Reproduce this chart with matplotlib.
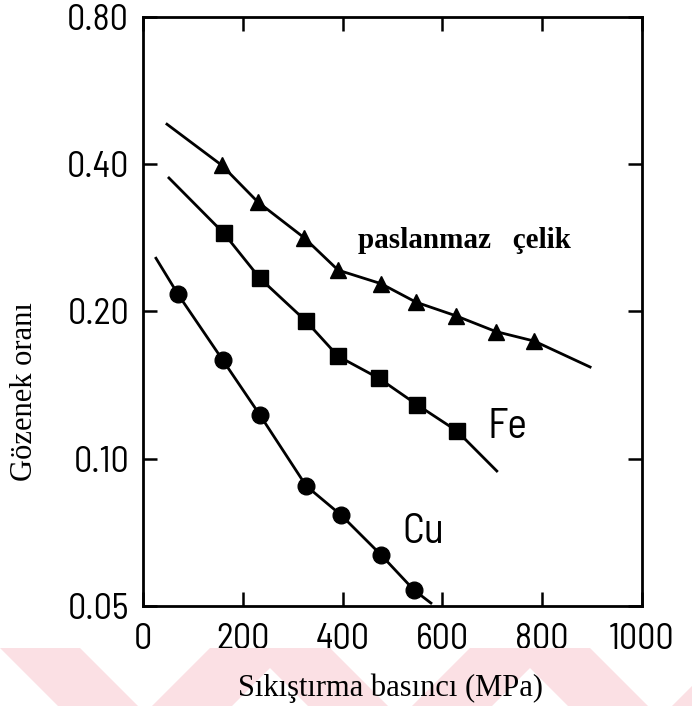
import matplotlib.pyplot as plt
from matplotlib.ticker import NullLocator
from matplotlib.patches import Polygon

# paslanmaz celik (triangles)
steel_x = [158, 230, 323, 391, 477, 547, 627, 707, 784]
steel_y = [0.398, 0.335, 0.283, 0.243, 0.228, 0.209, 0.196, 0.182, 0.174]
steel_ends_x = [48, 896]
steel_ends_y = [0.483, 0.154]

# Fe (squares)
fe_x = [162, 234, 327, 391, 473, 549, 629]
fe_y = [0.289, 0.234, 0.191, 0.162, 0.146, 0.129, 0.114]
fe_ends_x = [52, 709]
fe_ends_y = [0.375, 0.0944]

# Cu (circles)
cu_x = [70, 160, 234, 327, 397, 477, 543]
cu_y = [0.217, 0.159, 0.123, 0.088, 0.0767, 0.0636, 0.0539]
cu_ends_x = [26, 577]
cu_ends_y = [0.257, 0.0507]

x_ticks = [0, 200, 400, 600, 800, 1000]
y_ticks = [0.05, 0.10, 0.20, 0.40, 0.80]
y_tick_labels = ["0.05", "0.10", "0.20", "0.40", "0.80"]

W, H = 692, 706
fig = plt.figure(figsize=(W / 100, H / 100), dpi=100)

# faint pink scan watermark along the bottom edge (figure pixels)
wm_color = "#fbe0e4"
top, bot = H - 648, 0
for x0, slope in [(0, 1), (210, -1), (250, 1), (470, -1), (510, 1), (730, -1)]:
    d = (top - bot) * slope
    pts = [(x0, top), (x0 + 80, top), (x0 + 80 + d, bot), (x0 + d, bot)]
    pts = [(px / W, py / H) for px, py in pts]
    fig.patches.append(Polygon(pts, closed=True, transform=fig.transFigure,
                               facecolor=wm_color, edgecolor="none", zorder=0))

ax = fig.add_axes([143 / W, 100 / H, 499 / W, 589 / H])
ax.patch.set_alpha(0)

line_kw = dict(color="black", lw=2.0)
ax.plot([steel_ends_x[0]] + steel_x + [steel_ends_x[1]],
        [steel_ends_y[0]] + steel_y + [steel_ends_y[1]], **line_kw)
ax.plot([fe_ends_x[0]] + fe_x + [fe_ends_x[1]],
        [fe_ends_y[0]] + fe_y + [fe_ends_y[1]], **line_kw)
ax.plot([cu_ends_x[0]] + cu_x + [cu_ends_x[1]],
        [cu_ends_y[0]] + cu_y + [cu_ends_y[1]], **line_kw)

ax.plot(steel_x, steel_y, "^", color="black", ms=12, ls="none")
ax.plot(fe_x, fe_y, "s", color="black", ms=11.5, ls="none")
ax.plot(cu_x, cu_y, "o", color="black", ms=12, ls="none")

ax.set_yscale("log")
ax.set_xlim(0, 1000)
ax.set_ylim(0.05, 0.80)
ax.set_xticks(x_ticks)
ax.set_xticklabels([str(v) for v in x_ticks])
ax.set_yticks(y_ticks)
ax.set_yticklabels(y_tick_labels)
ax.yaxis.set_minor_locator(NullLocator())

sans = ["Barlow Semi Condensed", "Liberation Sans Narrow", "DejaVu Sans"]
ax.tick_params(direction="in", top=True, right=True, length=10, width=1.8,
               labelsize=26)
ax.tick_params(axis="y", pad=10)
ax.tick_params(axis="x", pad=12)
for lab in ax.get_xticklabels() + ax.get_yticklabels():
    lab.set_family(sans)
for sp in ax.spines.values():
    sp.set_linewidth(2.0)

serif = "Liberation Serif"
ax.text(431, 0.28, "paslanmaz   çelik", family=serif, fontweight="bold",
        fontsize=21, ha="left", va="center")
ax.text(691, 0.116, "Fe", family=sans, fontsize=30, ha="left", va="center")
ax.text(519, 0.0708, "Cu", family=sans, fontsize=30, ha="left", va="center")

fig.text(25 / W, 1 - 392 / H, "Gözenek oranı", family=serif, fontsize=22,
         rotation=90, ha="center", va="center")
fig.text(390 / W, 1 - 688 / H, "Sıkıştırma basıncı (MPa)", family=serif,
         fontsize=22, ha="center", va="center")

fig.savefig("out.png", dpi=100)
